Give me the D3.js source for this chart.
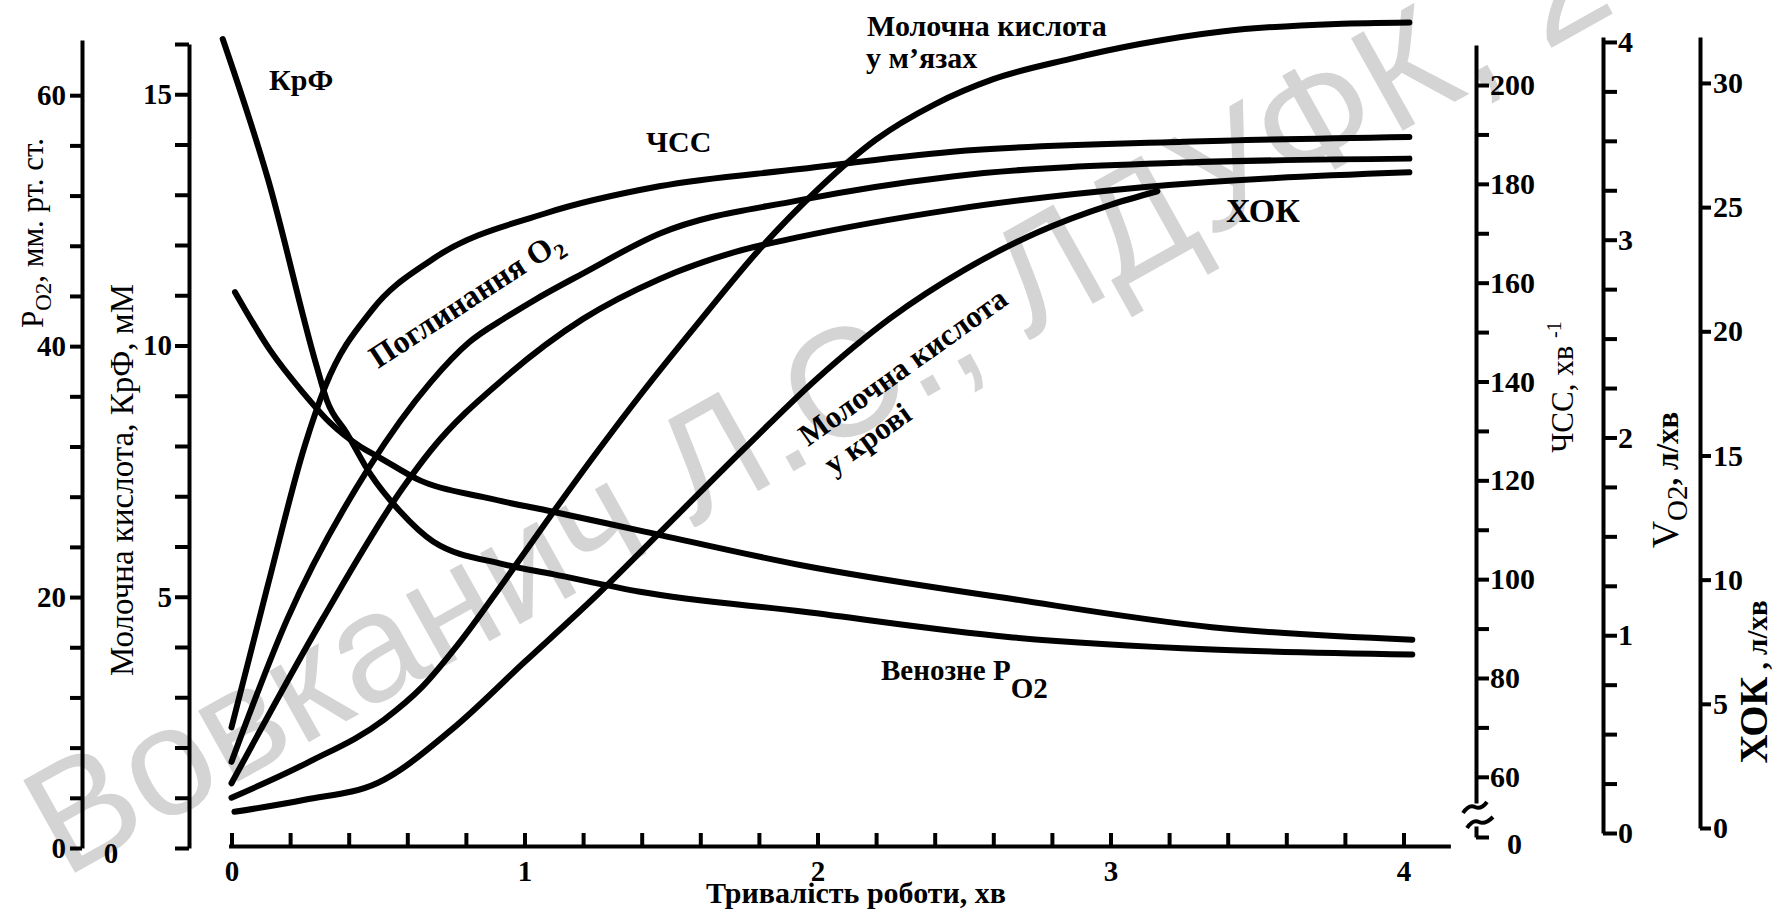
<!DOCTYPE html>
<html>
<head>
<meta charset="utf-8">
<script src="https://cdn.jsdelivr.net/npm/d3@7/dist/d3.min.js"></script>
<style>
  body { margin: 0; background: #fff; }
  text { font-family: "Liberation Serif", "Times New Roman", serif; fill: #000; }
  .axis path, .axis line { stroke: #000; stroke-width: 4; }
  .axis text { font-size: 29px; font-weight: bold; }
  .axis.right text { font-size: 30px; }
  .curve { fill: none; stroke: #000; stroke-width: 6; stroke-linecap: round; stroke-linejoin: round; }
  .lbl { font-weight: bold; font-size: 30px; }
  .ttl { font-size: 33px; }
  .mark { font-family: "Liberation Sans", Arial, sans-serif; font-size: 154px; fill: #d4d4d4; }
</style>
</head>
<body>
<div id="chart"></div>
<script>
// тривалість роботи, хв
const timeTicks = d3.range(21).map(i => i / 5);

// ЧСС, хв-1
const hrTime = [0, 0.125, 0.25, 0.32, 0.48, 0.68, 1.07, 1.46, 1.94, 2.46, 3.25, 4.02];
const hrValues = [70, 99, 127, 139, 154.5, 164.5, 174, 179.5, 183, 186.5, 188.5, 189.5];

// Поглинання O2, л/хв
const o2Time = [0, 0.19, 0.47, 0.68, 0.81, 0.94, 1.04, 1.2, 1.46, 1.94, 2.46, 3.25, 4.02];
const o2Values = [0.36, 1.08, 1.85, 2.28, 2.48, 2.61, 2.7, 2.83, 3.03, 3.2, 3.32, 3.39, 3.41];

// ХОК, л/хв
const cardiacTime = [0, 0.31, 0.585, 0.68, 0.94, 1.2, 1.46, 1.72, 1.94, 2.46, 3.11, 4.02];
const cardiacValues = [1.8, 8.4, 13.7, 15.2, 18.2, 20.5, 22.1, 23.2, 23.8, 24.9, 25.8, 26.4];

// молочна кислота у м'язах, мМ
const muscleTime = [0, 0.26, 0.52, 0.65, 0.78, 0.93, 1.1, 1.25, 1.4, 1.6, 1.8, 2.0, 2.2, 2.4, 2.6, 2.86, 3.1, 3.38, 3.77, 4.02];
const muscleValues = [1.0, 1.7, 2.55, 3.2, 4.1, 5.3, 6.7, 7.9, 9.05, 10.5, 11.9, 13.1, 14.1, 14.8, 15.3, 15.7, 16.0, 16.25, 16.4, 16.43];

// молочна кислота у крові, мМ
const bloodTime = [0.01, 0.25, 0.5, 0.75, 1.0, 1.25, 1.5, 1.75, 2.0, 2.25, 2.5, 2.75, 3.0, 3.16];
const bloodValues = [0.72, 0.96, 1.3, 2.35, 3.7, 5.05, 6.5, 7.95, 9.35, 10.55, 11.5, 12.25, 12.8, 13.07];

// КрФ, мМ
const pcrTime = [-0.03, 0.125, 0.29, 0.326, 0.394, 0.473, 0.575, 0.688, 0.926, 1.097, 1.394, 1.954, 2.65, 3.346, 4.03];
const pcrValues = [16.1, 13.3, 9.6, 8.9, 8.25, 7.45, 6.7, 6.1, 5.65, 5.45, 5.1, 4.7, 4.2, 3.95, 3.85];

// венозне PO2, мм рт. ст.
const venousTime = [0.012, 0.131, 0.244, 0.336, 0.439, 0.507, 0.643, 0.872, 1.097, 1.394, 1.954, 2.65, 3.346, 4.03];
const venousValues = [44.3, 39.7, 36.3, 33.9, 32.0, 31.1, 29.3, 27.9, 26.8, 25.3, 22.5, 19.9, 17.6, 16.6];

// поділки шкал
const po2Ticks = d3.range(0, 61, 4);
const mmTicks = d3.range(0, 17);
const hrTicks = d3.range(60, 201, 10);
const vo2Ticks = d3.range(17).map(i => i / 4);
const cardiacTicks = d3.range(0, 31, 5);

const width = 1776;
const height = 912;

let svg = d3.select('#chart').append('svg')
  .attr('width', width)
  .attr('height', height);

// водяний знак
svg.append('text')
  .attr('class', 'mark')
  .attr('transform', 'translate(64,879) rotate(-29.2)')
  .text('Вовканич Л.С., ЛДУФК, 2');

let x = d3.scaleLinear().domain([0, 4]).range([231.5, 1403.5]);
let xAxisScale = x.copy().domain([-0.01, 4.16]).range([x(-0.01), x(4.16)]);

let yPo2 = d3.scaleLinear().domain([0, 64.4]).range([848, 40]);
let yMm = d3.scaleLinear().domain([0, 16]).range([848, 44]);
let yHr = d3.scaleLinear().domain([54.7, 208.1]).range([803, 45]);
let yHrZero = d3.scaleLinear().domain([0, 1]).range([837, 826]);
let yVo2 = d3.scaleLinear().domain([0, 4.025]).range([833, 37]);
let yCardiac = d3.scaleLinear().domain([0, 31.85]).range([828, 37]);

// осі
svg.append('g').attr('class', 'axis')
  .attr('transform', 'translate(0,846)')
  .call(d3.axisBottom(xAxisScale).tickValues(timeTicks).tickSize(-13).tickSizeOuter(0).tickPadding(14)
    .tickFormat(d => Number.isInteger(d) ? d : ''));

svg.append('g').attr('class', 'axis')
  .attr('transform', 'translate(82,0)')
  .call(d3.axisLeft(yPo2).tickValues(po2Ticks).tickSize(12).tickSizeOuter(0).tickPadding(4)
    .tickFormat(d => d % 20 === 0 ? d : ''));

let mmAxis = svg.append('g').attr('class', 'axis')
  .attr('transform', 'translate(189,0)')
  .call(d3.axisLeft(yMm).tickValues(mmTicks).tickSize(14).tickSizeOuter(0).tickPadding(3)
    .tickFormat(d => d % 5 === 0 ? d : ''));
mmAxis.selectAll('.tick').filter(d => d === 0).select('text')
  .attr('x', -78).attr('text-anchor', 'middle').attr('dy', '0.5em');

svg.append('g').attr('class', 'axis right')
  .attr('transform', 'translate(1476,0)')
  .call(d3.axisRight(yHr).tickValues(hrTicks).tickSize(13).tickSizeOuter(0).tickPadding(1)
    .tickFormat(d => d % 20 === 0 ? d : ''));

let hrZero = svg.append('g').attr('class', 'axis right')
  .attr('transform', 'translate(1476,0)')
  .call(d3.axisRight(yHrZero).tickValues([0]).tickSize(13).tickSizeOuter(0).tickPadding(18)
    .tickFormat(d3.format('d')));
hrZero.select('.tick text').attr('dy', '0.55em');

svg.append('path')
  .attr('d', 'M1463,813 q6,-9 12,-6 t12,-5 M1467,828 q6,-9 12,-6 t14,-5')
  .attr('fill', 'none').attr('stroke', '#000').attr('stroke-width', 4);

svg.append('g').attr('class', 'axis right')
  .attr('transform', 'translate(1603,0)')
  .call(d3.axisRight(yVo2).tickValues(vo2Ticks).tickSize(14).tickSizeOuter(0).tickPadding(1)
    .tickFormat(d => Number.isInteger(d) ? d : ''));

svg.append('g').attr('class', 'axis right')
  .attr('transform', 'translate(1700,0)')
  .call(d3.axisRight(yCardiac).tickValues(cardiacTicks).tickSize(11).tickSizeOuter(0).tickPadding(2));

// криві
let series = [
  {t: hrTime, v: hrValues, y: yHr},
  {t: o2Time, v: o2Values, y: yVo2},
  {t: cardiacTime, v: cardiacValues, y: yCardiac},
  {t: muscleTime, v: muscleValues, y: yMm},
  {t: bloodTime, v: bloodValues, y: yMm},
  {t: pcrTime, v: pcrValues, y: yMm},
  {t: venousTime, v: venousValues, y: yPo2}
];

series.forEach(s => {
  let line = d3.line()
    .x(i => x(s.t[i]))
    .y(i => s.y(s.v[i]))
    .curve(d3.curveMonotoneX);
  svg.append('path')
    .attr('class', 'curve')
    .attr('d', line(d3.range(s.t.length)));
});

// підписи кривих
svg.append('text').attr('class', 'lbl').attr('x', 269).attr('y', 90).text('КрФ');
svg.append('text').attr('class', 'lbl').attr('x', 646).attr('y', 152).text('ЧСС');
svg.append('text').attr('class', 'lbl').attr('x', 867).attr('y', 36).text('Молочна кислота');
svg.append('text').attr('class', 'lbl').attr('x', 866).attr('y', 68).text('у м’язах');
svg.append('text').attr('class', 'lbl').attr('x', 1226).attr('y', 222).style('font-size', '34px').text('ХОК');

let o2Label = svg.append('text').attr('class', 'lbl').style('font-size', '32px')
  .attr('transform', 'translate(378,369) rotate(-33)');
o2Label.append('tspan').text('Поглинання O');
o2Label.append('tspan').attr('dy', 8).style('font-size', '22px').text('2');

let bloodLabel = svg.append('g').attr('transform', 'translate(808,447) rotate(-35.5)');
bloodLabel.append('text').attr('class', 'lbl').style('font-size', '31px').text('Молочна кислота');
bloodLabel.append('text').attr('class', 'lbl').style('font-size', '31px')
  .attr('x', 4).attr('y', 38).text('у крові');

let venLabel = svg.append('text').attr('class', 'lbl').style('font-size', '29px')
  .attr('x', 881).attr('y', 680);
venLabel.append('tspan').text('Венозне P');
venLabel.append('tspan').attr('dy', 18).text('O2');

// назви осей
let po2Title = svg.append('text').attr('class', 'ttl').attr('text-anchor', 'middle')
  .style('font-size', '31px')
  .attr('transform', 'translate(43,233) rotate(-90)');
po2Title.append('tspan').text('P');
po2Title.append('tspan').attr('dy', 8).style('font-size', '23px').text('O2');
po2Title.append('tspan').attr('dy', -8).text(', мм. рт. ст.');

svg.append('text').attr('class', 'ttl').attr('text-anchor', 'middle')
  .attr('transform', 'translate(133,480) rotate(-90)')
  .text('Молочна кислота, КрФ, мМ');

let hrTitle = svg.append('text').attr('class', 'ttl').attr('text-anchor', 'middle')
  .style('font-size', '31px')
  .attr('transform', 'translate(1573,387) rotate(-90)');
hrTitle.append('tspan').text('ЧСС, хв ');
hrTitle.append('tspan').attr('dy', -12).style('font-size', '20px').text('-1');

let vo2Title = svg.append('text').attr('class', 'ttl').attr('text-anchor', 'middle')
  .style('font-size', '38px')
  .attr('transform', 'translate(1678,480) rotate(-90)');
vo2Title.append('tspan').text('V');
vo2Title.append('tspan').attr('dy', 9).style('font-size', '29px').text('O2');
vo2Title.append('tspan').attr('dy', -9).style('font-size', '31px').style('font-weight', 'bold').text(', л/хв');

let coTitle = svg.append('text').attr('text-anchor', 'middle')
  .attr('transform', 'translate(1767,682) rotate(-90)');
coTitle.append('tspan').style('font-size', '40px').style('font-weight', 'bold').text('ХОК');
coTitle.append('tspan').style('font-size', '29px').style('font-weight', 'bold').text(' , л/хв');

svg.append('text').attr('text-anchor', 'middle')
  .attr('x', 856).attr('y', 903)
  .style('font-size', '30px').style('font-weight', 'bold')
  .text('Тривалість роботи, хв');
</script>
</body>
</html>
